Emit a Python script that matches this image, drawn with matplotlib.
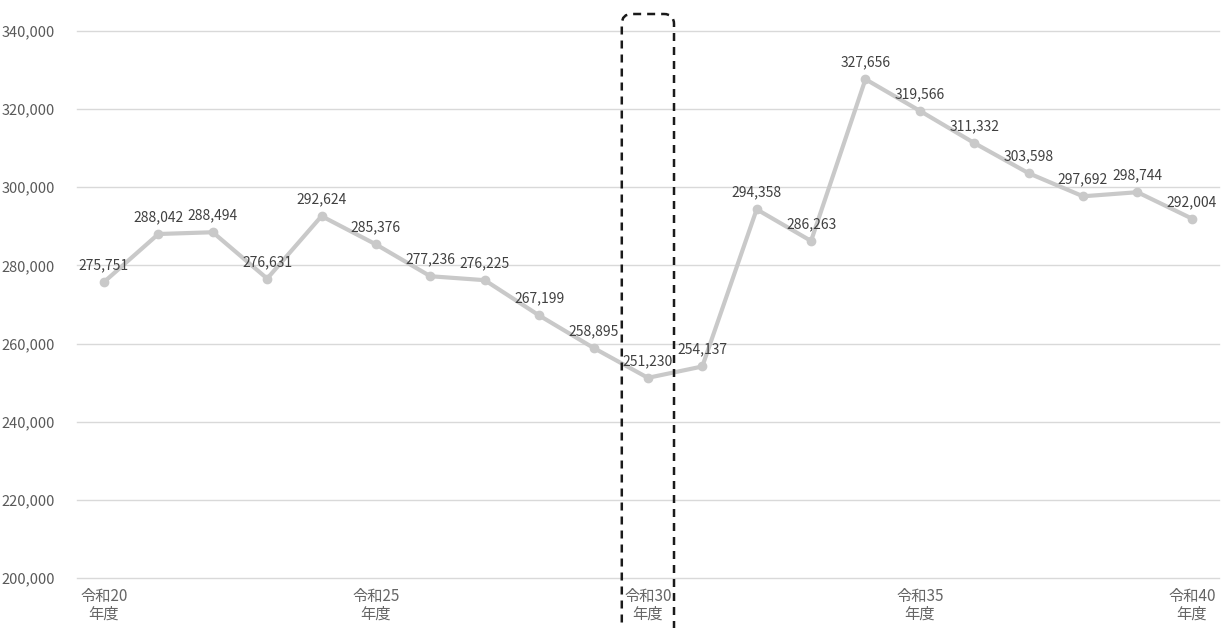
import matplotlib
matplotlib.use("Agg")
import matplotlib.pyplot as plt
from matplotlib.patches import FancyBboxPatch
from matplotlib.ticker import FuncFormatter

plt.rcParams['font.family'] = ['Noto Sans CJK JP', 'DejaVu Sans']

# 年度 (令和20〜40) と値
years = list(range(20, 41))
values = [275751, 288042, 288494, 276631, 292624, 285376, 277236, 276225,
          267199, 258895, 251230, 254137, 294358, 286263, 327656, 319566,
          311332, 303598, 297692, 298744, 292004]
tick_years = [20, 25, 30, 35, 40]
highlight_year = 30

fig = plt.figure(figsize=(12.25, 6.28), dpi=100)
W, H = 1225, 628
ax = fig.add_axes([76.8 / W, 1 - 578 / H, (1219 - 76.8) / W, (578 - 31) / H])

xs = list(range(len(years)))
ax.plot(xs, values, color="#c9c9c9", linewidth=3, marker="o", markersize=6,
        zorder=3, solid_capstyle="round")

for x, v in zip(xs, values):
    ax.annotate(f"{v:,}", (x, v), xytext=(0, 7), textcoords="offset points",
                ha="center", va="bottom", fontsize=10, color="#404040", zorder=4)

ax.set_xlim(-0.5, len(years) - 0.5)
ax.set_ylim(200000, 340000)
ax.set_yticks(range(200000, 340001, 20000))
ax.yaxis.set_major_formatter(FuncFormatter(lambda v, p: f"{int(v):,}"))
ax.set_xticks([years.index(y) for y in tick_years])
ax.set_xticklabels([f"令和{y}\n年度" for y in tick_years])

ax.grid(axis="y", color="#d9d9d9", linewidth=1)
for gl in ax.get_ygridlines():
    gl.set_clip_on(False)
ax.set_axisbelow(True)
for s in ax.spines.values():
    s.set_visible(False)
ax.tick_params(axis="y", length=0, labelsize=10.5, colors="#595959", pad=16)
ax.tick_params(axis="x", length=0, labelsize=11, colors="#666666", pad=7)
for lb in ax.get_xticklabels():
    lb.set_linespacing(1.1)

# 令和30年度を囲む破線の枠
fig.canvas.draw()
hi = years.index(highlight_year)
x0, y0 = ax.transData.transform((hi - 0.48, 200000))
x1, y1 = ax.transData.transform((hi + 0.48, 340000))
top = y1 + 17
bottom = -20
box = FancyBboxPatch((x0 / 100, bottom / 100), (x1 - x0) / 100, (top - bottom) / 100,
                     boxstyle="round,pad=0,rounding_size=0.1",
                     transform=fig.dpi_scale_trans, fill=False,
                     edgecolor="#1a1a1a", linewidth=1.8, linestyle=(0, (3.2, 2.4)),
                     clip_on=False, zorder=5)
fig.patches.append(box)

fig.savefig("out.png", dpi=100)
